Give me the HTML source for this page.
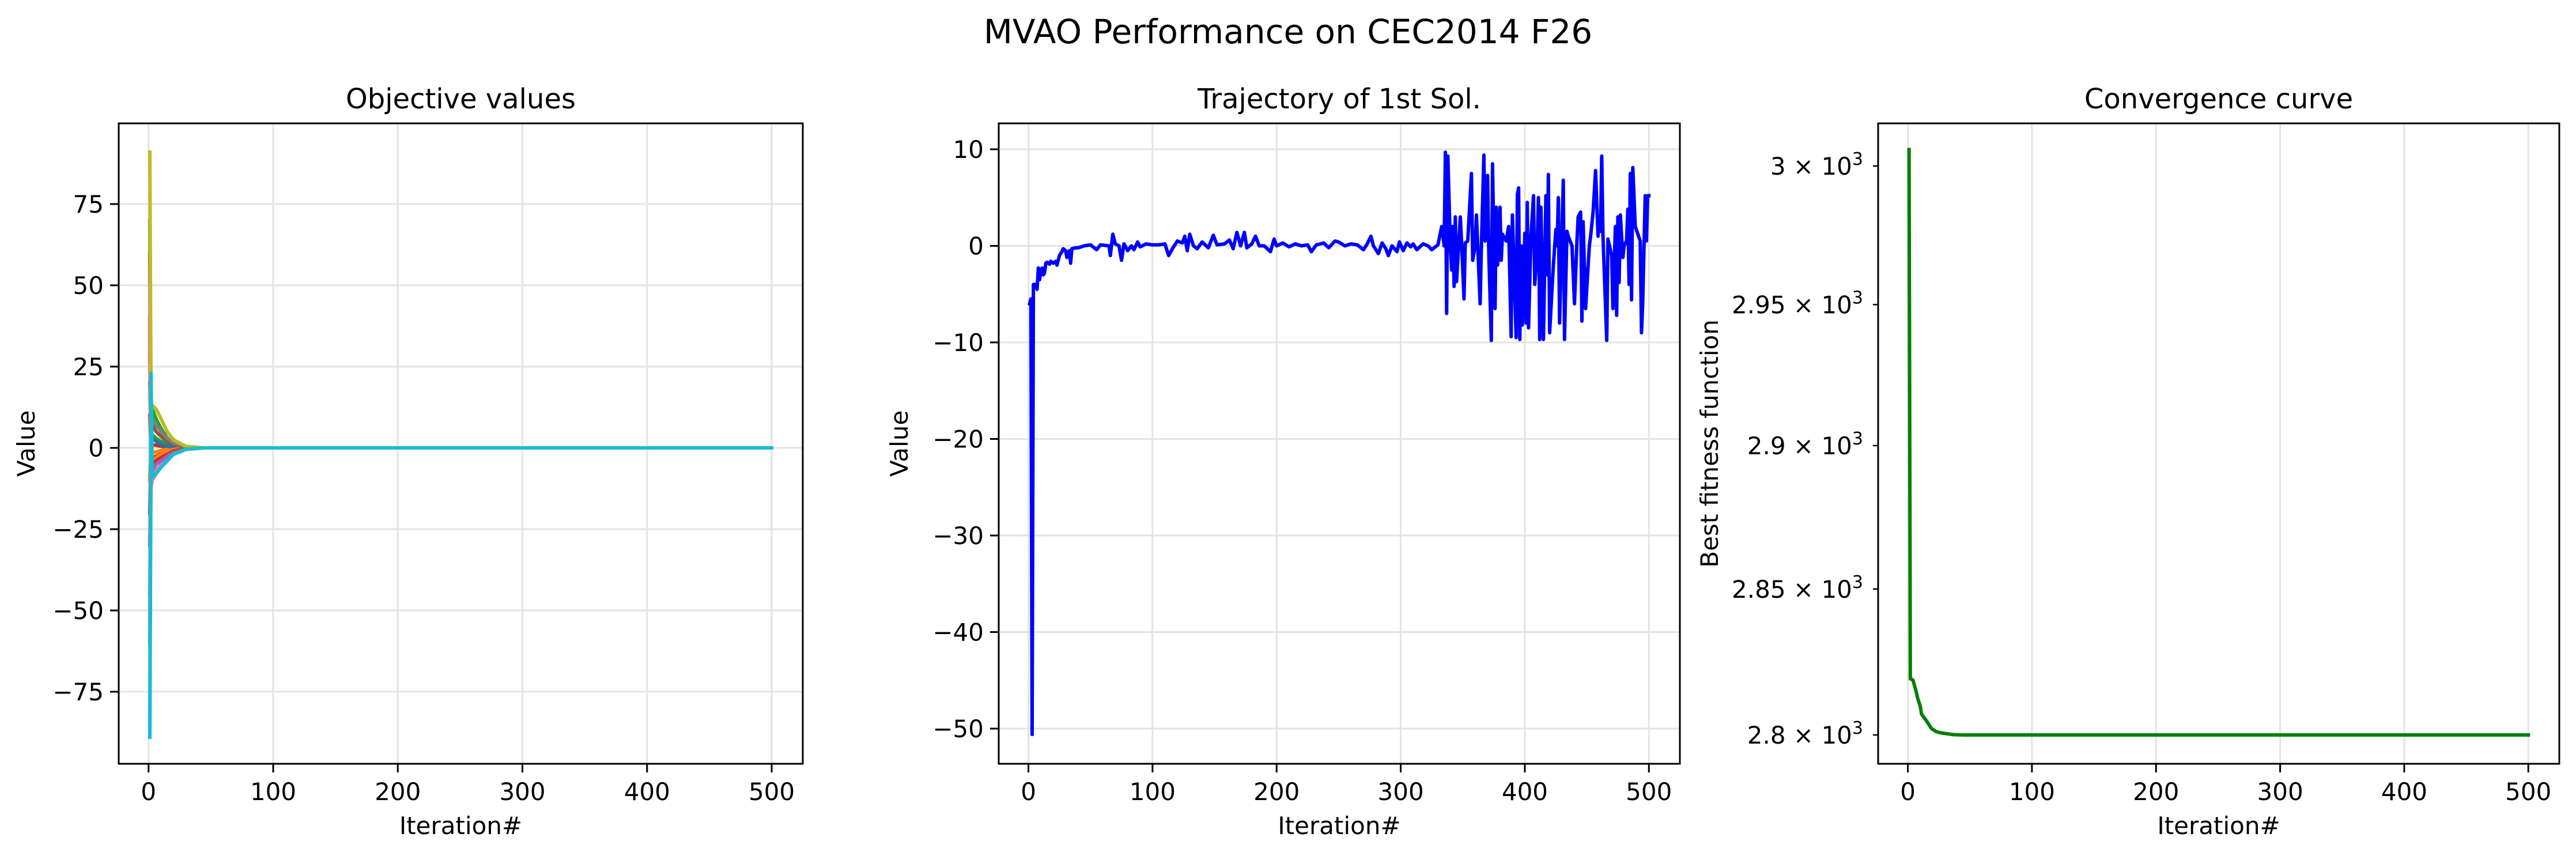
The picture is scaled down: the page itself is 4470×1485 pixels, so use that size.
<!DOCTYPE html>
<html><head><meta charset="utf-8"><style>
html,body{margin:0;padding:0;background:#fff}
svg{display:block;font-family:"DejaVu Sans","Liberation Sans",sans-serif}
</style></head><body>
<svg id="fig" xmlns="http://www.w3.org/2000/svg" width="4470" height="1485" viewBox="0 0 4470 1485">
<rect width="4470" height="1485" fill="#fff"/>
<text x="2235" y="75" text-anchor="middle" font-size="58">MVAO Performance on CEC2014 F26</text>
</svg>
<script>
// ---------- data ----------
const p1Iters = [1,2,3,6,10,15,20,30,45,500];
const p1Blue   = [-89,5,3,2,1,0.5,0.2,0,0,0];
const p1Orange = [30,-5,-4,-3,-2,-1,-0.5,0,0,0];
const p1Green  = [70,14,12,9,6,3,1.5,0.3,0,0];
const p1Red    = [40,-6,-5,-4,-3,-2,-1,-0.2,0,0];
const p1Purple = [-30,-8,-7,-5,-4,-2.5,-1.5,-0.3,0,0];
const p1Brown  = [60,8,7,5,3.5,2,1,0.2,0,0];
const p1Pink   = [50,-12,-10,-8,-6,-4,-2,-0.5,0,0];
const p1Gray   = [-60,10,9,7,5,3,1.5,0.3,0,0];
const p1Olive  = [91,14,13,12,9,5,2.5,0.5,0,0];
const p1Cyan   = [-89,23,-9,-8,-6,-4,-2,-0.4,0,0];
const p1Extra1 = [20,4,4,3,2,1.2,0.6,0.1,0,0];
const p1Extra2 = [-20,-3,-3,-2.5,-1.8,-1,-0.5,-0.1,0,0];
const p1Extra3 = [35,11,10,8,5.5,3,1.5,0.3,0,0];
const p1Extra4 = [-45,-10,-9,-7,-5,-3,-1.6,-0.3,0,0];
const p1Extra5 = [10,1,1,0.8,0.5,0.3,0.1,0,0,0];
const p1Extra6 = [-10,-1,-1.5,-1.2,-0.8,-0.4,-0.2,0,0,0];
const p1YTicks = [-75,-50,-25,0,25,50,75];
const xTicks = [0,100,200,300,400,500];

const p2Iters = [1,2,3,4,5,6,7,8,9,10,11,12,13,14,15,16,17,18,19,20,22,23,25,27,28,30,31,33,34,35,38,40,45,50,55,58,65,66,68,70,73,75,77,80,83,85,88,90,95,100,105,110,113,116,120,124,126,128,130,133,136,140,145,149,152,158,162,165,168,171,174,176,180,183,186,190,195,198,200,205,210,215,220,225,228,232,238,242,247,250,255,260,265,270,273,276,278,282,285,288,290,293,297,299,302,305,308,310,313,318,322,325,330,333,335,336,337,338,340,341,342,343,344,345,348,349,351,352,354,357,358,360,361,364,365,367,368,370,371,373,374,376,377,378,379,380,381,382,385,387,389,390,393,394,395,396,397,398,400,401,402,403,405,407,408,410,411,412,413,415,417,418,419,420,423,425,426,427,428,431,432,434,435,438,440,442,443,445,446,447,449,452,453,455,457,459,460,461,462,463,466,467,470,471,473,474,475,476,477,479,480,482,483,484,485,486,487,489,493,494,495,497,498,499,500];
const p2Vals = [-6,-5.5,-50.6,-4,-4,-4,-4.5,-2.3,-3.5,-2.5,-2.3,-3,-2.8,-1.8,-1.7,-1.8,-1.9,-1.6,-1.7,-1.8,-1.6,-2,-1,-0.6,-0.3,-0.5,-1.2,-0.5,-1.8,-0.3,-0.2,-0.2,0,0.1,-0.4,0.1,0,-1,1.2,0.2,0,-1.5,0.2,-0.5,0,-0.4,0.4,-0.1,0.2,0.1,0.1,0.2,-1,-0.3,0.5,0.3,1,-0.5,1.2,0,-0.3,0.4,-0.2,1.1,0.1,0.2,0.6,-0.3,1.4,0,1.4,-0.2,0.2,1,0,0,-0.6,0.7,0,0.3,-0.1,0.2,0,0.1,-0.6,0.1,0.3,-0.2,0.5,0.4,0,0.2,0.1,-0.4,0.2,1,0,-0.8,0.3,-0.3,-1,0,-0.6,0.4,-0.5,0.3,-0.1,0.2,-0.4,0.2,0,-0.4,0.1,2,0,9.7,-7,9.3,0,-2.5,2,-4.2,3,-3.7,3,0.5,-5.5,0.3,0.5,7.5,-1.5,0,3.2,-6,0,9.4,0.5,7.3,-1,-9.8,8.5,-6.5,4,-2,-0.5,4,-1.5,1.2,0.5,2,-9.4,3.2,-9.5,5.3,6,-9.7,0,-8.2,1.3,-8,4.5,-8.5,1,5.2,-4,0,5,-9.7,4,-9.7,5.2,-3,7.4,-9,-2,1.7,0,5,-8,6.8,-9.7,1.5,1,0,-6,0.5,3,3.5,-7.8,2.5,-6.5,0,1,3.5,7.8,1,3,1.5,9.3,1,-9.8,0.7,-1,-6.5,2,-7.2,3,-3.8,3.2,-1.2,0,0.5,3.8,-4,7.5,-5.6,8.1,2,0.5,-9,-6,5.2,0.5,5.2,5.2];
const p2YTicks = [-50,-40,-30,-20,-10,0,10];

const p3Iters = [1,2,4,6,8,10,11,15,19,23,28,37,45,500];
const p3Vals  = [3006,2819.1,2818.8,2815.9,2812.4,2809.8,2807.1,2804.8,2802.2,2801.1,2800.6,2800.1,2800,2800];
const p3YTicks = [2800,2850,2900,2950,3000];
const p3YTickLabels = ["2.8","2.85","2.9","2.95","3"];

// ---------- helpers ----------
const NS = "http://www.w3.org/2000/svg";
const svg = document.getElementById('fig');
function mk(tag, attrs, parent){
  const e = document.createElementNS(NS, tag);
  for (const k in attrs) e.setAttribute(k, attrs[k]);
  (parent||svg).appendChild(e);
  return e;
}
const TOP = 214, BOT = 1325;
function linX(l,r){ const x0=-23.95,x1=524.95; return v => l + (v-x0)/(x1-x0)*(r-l); }
function fmt(v){ return v<0 ? "\u2212"+Math.abs(v) : String(v); }

function panel(name, l, r, xs, ys, yTicks, yLabelFn, title, ylabel, ylabX, hGrid, minorY){
  const g = mk('g', {});
  
  
  xTicks.forEach(t=>{
    const gl = mk('line',{x1:xs(t),x2:xs(t),y1:TOP,y2:BOT,stroke:'#e3e3e3','stroke-width':3},g);
    
    
  });
  if (hGrid) yTicks.forEach(t=>{
    const gl = mk('line',{x1:l,x2:r,y1:ys(t),y2:ys(t),stroke:'#e3e3e3','stroke-width':3},g);
    
    
  });
  xTicks.forEach(t=>{
    const tk = mk('line',{x1:xs(t),x2:xs(t),y1:BOT,y2:BOT+15,stroke:'#000','stroke-width':3},g);
    
    
    const tl = mk('text',{x:xs(t),y:1388,'text-anchor':'middle','font-size':42},g);
    tl.textContent = String(t);
    
    
  });
  yTicks.forEach((t,i)=>{
    const len = minorY ? 9 : 15;
    const tk = mk('line',{x1:l-len,x2:l,y1:ys(t),y2:ys(t),stroke:'#000','stroke-width':minorY?2.5:3},g);
    
    
    const tl = mk('text',{x:l-26,y:ys(t)+15,'text-anchor':'end','font-size':42},g);
    yLabelFn(tl, t, i);
    
    
  });
  const tt = mk('text',{x:(l+r)/2,y:188,'text-anchor':'middle','font-size':48},g);
  tt.textContent = title;
  
  
  const xl = mk('text',{x:(l+r)/2,y:1447,'text-anchor':'middle','font-size':42},g);
  xl.textContent = 'Iteration#';
  
  
  const yl = mk('text',{x:ylabX,y:(TOP+BOT)/2,'text-anchor':'middle','font-size':42,transform:`rotate(-90 ${ylabX} ${(TOP+BOT)/2})`},g);
  yl.textContent = ylabel;
  
  
  return g;
}
function frame(g,l,r){
  const f = mk('rect',{x:l,y:TOP,width:r-l,height:BOT-TOP,fill:'none',stroke:'#000','stroke-width':3},g);
  
  
}
function poly(g, xsArr, vsArr, xs, ys, color, w, name){
  const pts = xsArr.map((x,i)=>xs(x).toFixed(1)+','+ys(vsArr[i]).toFixed(1)).join(' ');
  const p = mk('polyline',{points:pts,fill:'none',stroke:color,'stroke-width':w,'stroke-linejoin':'round','stroke-linecap':'square'},g);
  
  
}

// ---------- panel 1 ----------
{
  const l=206, r=1393;
  const xs = linX(l,r);
  const ys = v => 777 - v*5.64;
  const g = panel('objective-values-panel', l, r, xs, ys, p1YTicks, (e,t)=>{e.textContent=fmt(t);}, 'Objective values', 'Value', 60, true, false);
  const series = [p1Extra1,p1Extra2,p1Extra3,p1Extra4,p1Extra5,p1Extra6,p1Blue,p1Orange,p1Green,p1Red,p1Purple,p1Brown,p1Pink,p1Gray,p1Olive,p1Cyan];
  const cols = ['#2ca02c','#8c564b','#7f7f7f','#e377c2','#d62728','#ff7f0e','#1f77b4','#ff7f0e','#2ca02c','#d62728','#9467bd','#8c564b','#e377c2','#7f7f7f','#bcbd22','#17becf'];
  series.forEach((s,i)=>poly(g, p1Iters, s, xs, ys, cols[i], 6, 'agent-line'));
  frame(g,l,r);
}
// ---------- panel 2 ----------
{
  const l=1733, r=2915;
  const xs = linX(l,r);
  const ys = v => 426.5 - v*16.75;
  const g = panel('trajectory-panel', l, r, xs, ys, p2YTicks, (e,t)=>{e.textContent=fmt(t);}, 'Trajectory of 1st Sol.', 'Value', 1575, true, false);
  poly(g, p2Iters, p2Vals, xs, ys, '#0000ff', 6, 'trajectory-line');
  frame(g,l,r);
}
// ---------- panel 3 ----------
{
  const l=3259, r=4441;
  const xs = linX(l,r);
  const ys = v => 1275 - Math.log10(v/2800)*32940;
  const g = panel('convergence-panel', l, r, xs, ys, p3YTicks, (e,t,i)=>{
    const a = document.createElementNS(NS,'tspan'); a.textContent = p3YTickLabels[i] + ' \u00d7 10'; e.appendChild(a);
    const b = document.createElementNS(NS,'tspan'); b.setAttribute('dy','-17'); b.setAttribute('font-size','30'); b.textContent='3'; e.appendChild(b);
  }, 'Convergence curve', 'Best fitness function', 2981, false, true);
  poly(g, p3Iters, p3Vals, xs, ys, '#008000', 6, 'convergence-line');
  frame(g,l,r);
}
</script>
</body></html>
